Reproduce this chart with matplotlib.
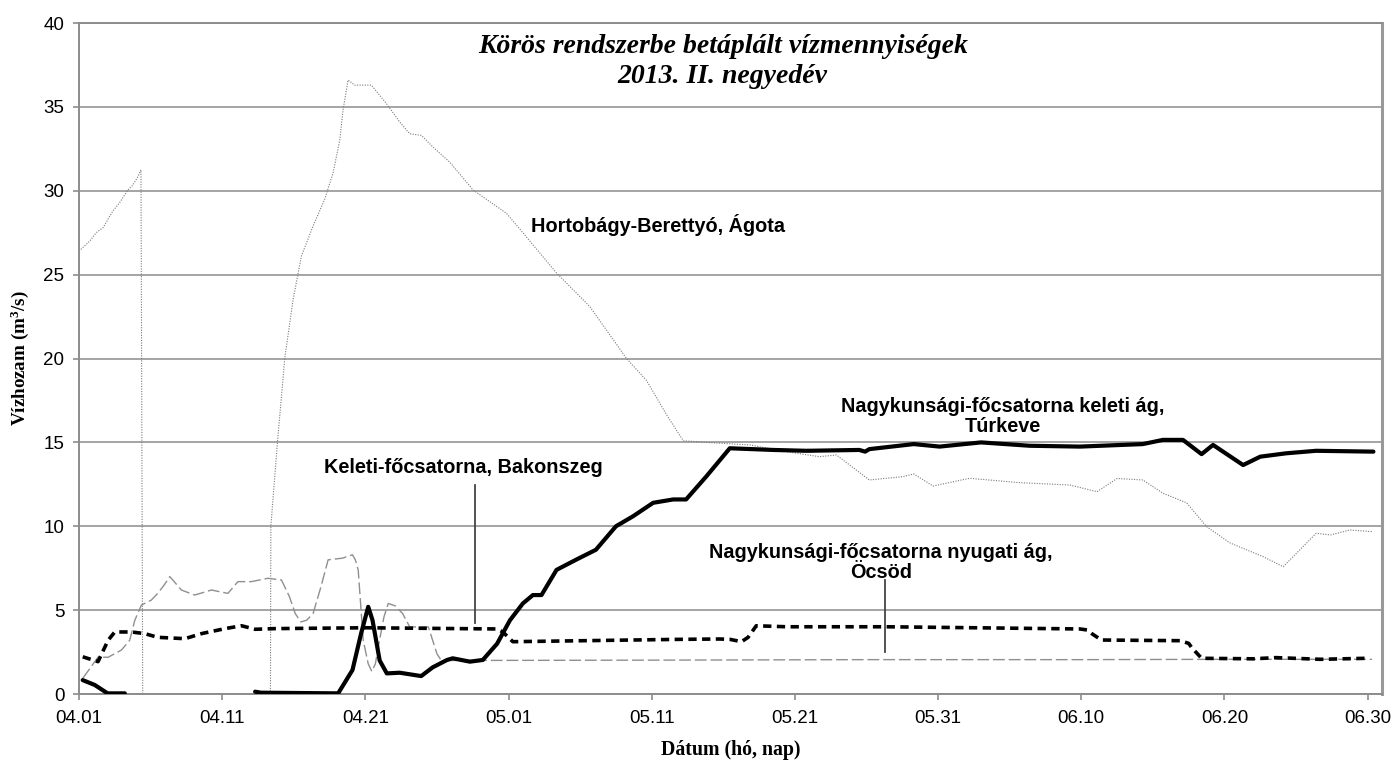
import numpy as np
import matplotlib
matplotlib.use('Agg')
from matplotlib import pyplot as plt
from matplotlib import rcParams

rcParams['font.family'] = 'Liberation Sans'
rcParams['mathtext.default'] = 'regular'

nan = np.nan

# napok 04.01-től számítva (0 = 04.01)
tick_days = [0, 10, 20, 30, 40, 50, 60, 70, 80, 90]
tick_labels = ['04.01', '04.11', '04.21', '05.01', '05.11',
               '05.21', '05.31', '06.10', '06.20', '06.30']

# Hortobágy-Berettyó, Ágota
hb_day = [0, 0.75, 1.2, 1.68, 2.37, 2.84, 3.42, 3.77, 4.12, 4.33, 4.45, nan,
          13.37, 13.4, 13.86, 14.37, 14.95, 15.53, 16.35, 17.16, 17.74, 18.21,
          18.44, 18.79, 19.26, 20.42, 21.47, 22.4, 23.1, 23.92, 24.73, 25.9,
          27.52, 29.85, 31.0, 33.35, 35.67, 38.24, 39.63, 41.0, 42.2, 43.8,
          46.85, 49.4, 51.7, 52.9, 55.2, 57.55, 58.3, 59.65, 62.2, 65.7,
          69.2, 71.1, 72.5, 74.3, 75.7, 77.35, 78.75, 80.4, 82.7, 84.1,
          86.4, 87.4, 88.76, 90.3]
hb_val = [26.4, 27.0, 27.5, 27.8, 28.8, 29.3, 30.05, 30.35, 30.85, 31.25, 0, nan,
          0, 10, 15, 20, 23.5, 26.1, 27.9, 29.5, 31.05, 33.0,
          34.8, 36.6, 36.3, 36.3, 35.2, 34.1, 33.4, 33.3, 32.6, 31.7,
          30.05, 28.66, 27.5, 25.1, 23.1, 20.0, 18.7, 16.7, 15.1, 15.0,
          14.85, 14.45, 14.15, 14.25, 12.76, 12.96, 13.12, 12.4, 12.86, 12.6,
          12.46, 12.06, 12.85, 12.76, 11.97, 11.4, 9.98, 9.0, 8.19, 7.59,
          9.58, 9.48, 9.78, 9.68]

# Keleti-főcsatorna, Bakonszeg
kf_day = [0.26, 1.33, 2.03, 2.96, 3.54, 3.9, 4.36, 5.05, 5.5, 5.95, 6.34,
          6.75, 7.15, 8.08, 9.25, 10.4, 10.8, 11.1, 12.04, 13.2, 14.14, 14.7,
          15.1, 15.5, 15.9, 16.35, 16.9, 17.4, 18.4, 19.1, 19.3, 19.5, 19.85,
          20.2, 20.45, 20.7, 20.9, 21.3, 21.6, 22.1, 22.6, 23.1, 24.4, 24.7,
          25.0, 25.3, 40, 55, 70, 80, 90.3]
kf_val = [0.93, 2.2, 2.19, 2.62, 3.2, 4.4, 5.3, 5.6, 6.0, 6.5, 7.0,
          6.6, 6.2, 5.9, 6.2, 6.0, 6.4, 6.7, 6.7, 6.9, 6.8, 5.8,
          4.8, 4.3, 4.4, 4.8, 6.4, 8.0, 8.1, 8.3, 8.0, 7.4, 3.2,
          1.8, 1.35, 1.8, 2.8, 4.6, 5.4, 5.25, 4.8, 4.0, 4.0, 3.2,
          2.4, 2.0, 2.02, 2.05, 2.05, 2.07, 2.07]

# Nagykunsági-főcsatorna keleti ág, Túrkeve
tk_day = [0.26, 1.1, 2.0, 3.2, nan, 12.3, 12.7, 18.1, 19.1, 19.7,
          20.2, 20.5, 21.0, 21.5, 22.4, 23.9, 24.7, 25.7, 26.1, 27.3,
          28.2, 29.2, 30.1, 31.0, 31.7, 32.3, 33.35, 34.7, 36.1, 37.5,
          38.7, 40.1, 41.5, 42.4, 43.8, 45.45, 48.5, 50.8, 54.5, 54.9,
          55.2, 58.3, 60.1, 63.0, 66.4, 69.9, 74.3, 75.7, 77.1, 78.4,
          79.2, 81.3, 82.5, 84.3, 86.4, 90.4]
tk_val = [0.83, 0.54, 0.04, 0.04, nan, 0.14, 0.08, 0.04, 1.43, 3.6,
          5.2, 4.4, 2.0, 1.23, 1.27, 1.07, 1.59, 2.03, 2.13, 1.93,
          2.03, 3.0, 4.4, 5.4, 5.9, 5.9, 7.4, 8.0, 8.6, 10.0,
          10.6, 11.4, 11.6, 11.6, 12.96, 14.65, 14.55, 14.5, 14.55, 14.45,
          14.6, 14.9, 14.75, 15.0, 14.8, 14.75, 14.9, 15.15, 15.15, 14.3,
          14.85, 13.65, 14.15, 14.35, 14.5, 14.45]

# Nagykunsági-főcsatorna nyugati ág, Öcsöd
oc_day = [0.26, 1.33, 2.03, 2.5, 3.66, 4.6, 5.5, 7.4, 8.55, 10.2,
          11.35, 12.3, 13.7, 20.0, 29.15, 29.6, 30.3, 41.95, 44.75, 45.45,
          46.27, 46.73, 47.3, 49.4, 56.4, 65.7, 69.9, 70.4, 70.7, 71.4,
          76.9, 77.5, 77.7, 78.4, 82.0, 83.6, 86.7, 89.9]
oc_val = [2.22, 1.93, 3.2, 3.7, 3.7, 3.6, 3.38, 3.3, 3.6, 3.9,
          4.07, 3.86, 3.9, 3.95, 3.88, 3.7, 3.12, 3.26, 3.28, 3.26,
          3.12, 3.38, 4.07, 4.01, 4.01, 3.92, 3.88, 3.82, 3.62, 3.22,
          3.18, 3.02, 2.78, 2.13, 2.1, 2.17, 2.07, 2.13]

fig = plt.figure(figsize=(13.93, 7.6), dpi=100)
ax = fig.add_axes([0.0567, 0.0868, 0.9354, 0.8829])

grid_c = '#8c8c8c'
ax.set_xlim(0, 91)
ax.set_ylim(0, 40)
ax.set_yticks(range(0, 41, 5))
ax.set_xticks(tick_days)
ax.set_xticklabels(tick_labels)
ax.grid(axis='y', color=grid_c, lw=1.1, zorder=0)
ax.set_axisbelow(True)
for side in ['left', 'bottom', 'top']:
    ax.spines[side].set_color(grid_c)
    ax.spines[side].set_linewidth(1.4)
ax.spines['right'].set_color('#999999')
ax.spines['right'].set_linewidth(2.2)
ax.tick_params(axis='both', colors=grid_c, length=4.5, width=1.2,
               labelcolor='black', labelsize=13.5)
ax.tick_params(axis='y', pad=6)
ax.tick_params(axis='x', pad=7)

# vonalak
ax.plot(hb_day, hb_val, color='#7a7a7a', lw=0.8, dashes=(1, 1.3), zorder=2)
ax.plot(kf_day, kf_val, color='#8f8f8f', lw=1.0, dashes=(8.5, 2.8), zorder=2,
        dash_joinstyle='round')
ax.plot(oc_day, oc_val, color='black', lw=2.6, dashes=(2.3, 1.5), zorder=3)
ax.plot(tk_day, tk_val, color='black', lw=3.0, zorder=4,
        solid_joinstyle='round', solid_capstyle='round')

# feliratok
lab = dict(fontsize=14.3, fontweight='bold', ha='center', va='center',
           linespacing=1.1, zorder=5)
ax.text(40.44, 27.97, 'Hortobágy-Berettyó, Ágota', **lab)
ax.text(26.87, 13.48, 'Keleti-főcsatorna, Bakonszeg', **lab)
ax.text(64.5, 16.53, 'Nagykunsági-főcsatorna keleti ág,\nTúrkeve', **lab)
ax.text(55.99, 7.84, 'Nagykunsági-főcsatorna nyugati ág,\nÖcsöd', **lab)
ax.plot([27.64, 27.64], [12.46, 4.23], color='#444444', lw=1.3, zorder=5)
ax.plot([56.28, 56.28], [6.8, 2.52], color='#444444', lw=1.3, zorder=5)

ax.text(0.494, 0.984, 'Körös rendszerbe betáplált vízmennyiségek\n2013. II. negyedév',
        transform=ax.transAxes, ha='center', va='top', fontsize=20,
        family='Liberation Serif', fontweight='bold', style='italic',
        linespacing=1.3)

ax.set_ylabel('Vízhozam (m$^3$/s)', family='Liberation Serif',
              fontweight='bold', fontsize=13.7, labelpad=9)
ax.set_xlabel('Dátum (hó, nap)', family='Liberation Serif',
              fontweight='bold', fontsize=14.3, labelpad=9)

fig.savefig('out.png', dpi=100)
